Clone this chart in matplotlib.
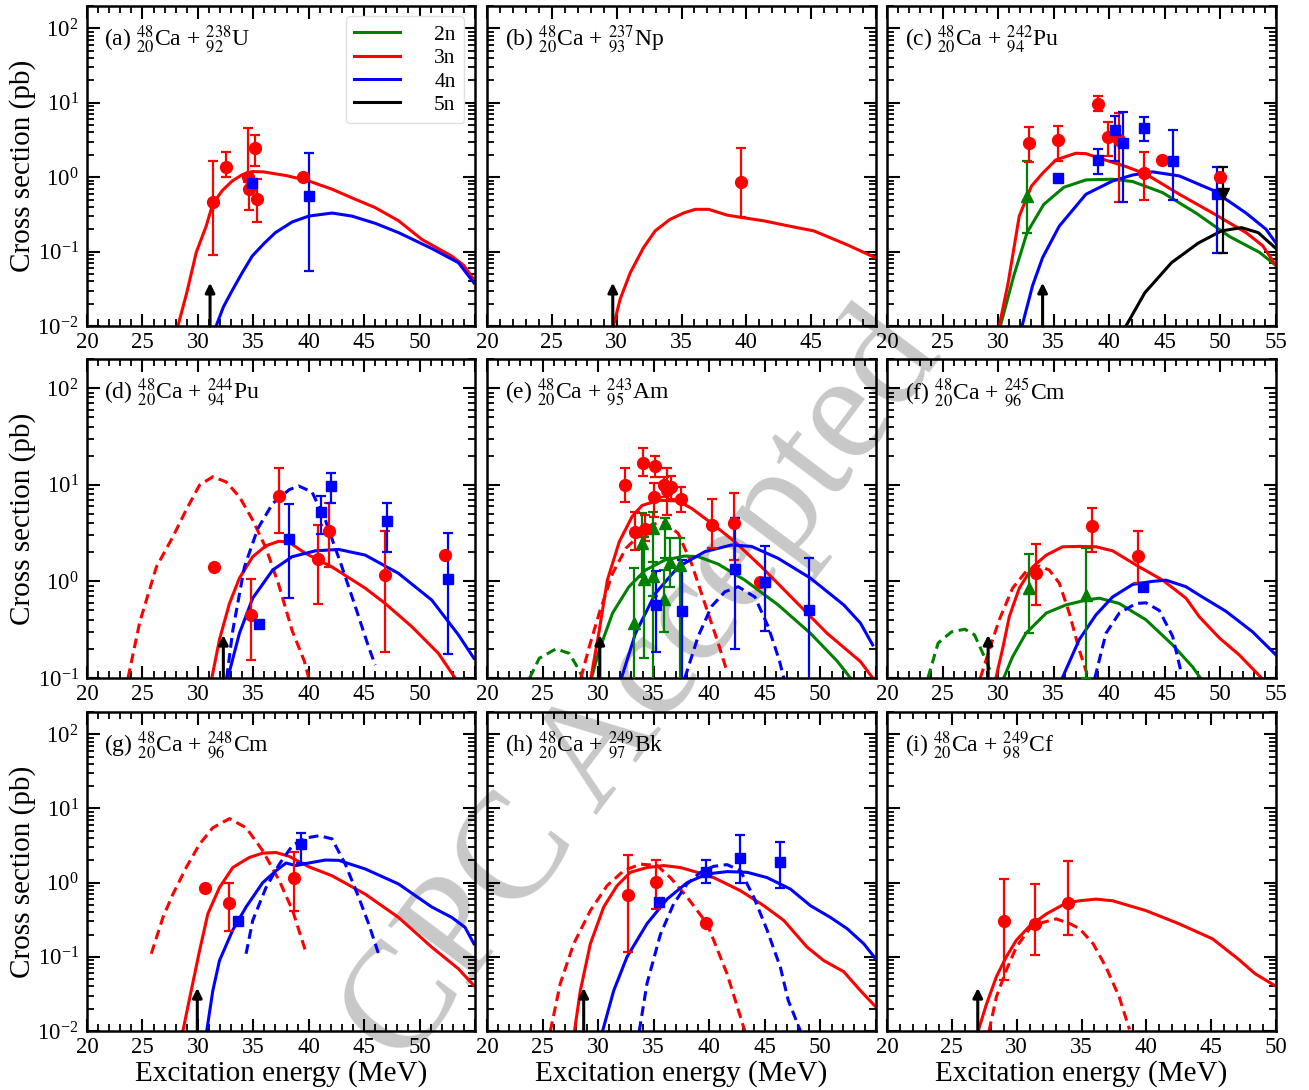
import matplotlib
matplotlib.use('Agg')
import matplotlib.pyplot as plt
import numpy as np
from matplotlib.ticker import LogLocator, NullFormatter, MultipleLocator

plt.rcParams['font.family'] = ['Liberation Serif', 'DejaVu Serif']
plt.rcParams['mathtext.fontset'] = 'stix'

RED = '#ff0000'
BLUE = '#0000ff'
GREEN = '#008000'
BLACK = '#000000'

# ---------------- (a) 48Ca + 238U ----------------
a_3n_E = [28.2, 29.0, 29.85, 30.75, 31.35, 32.2, 33.1, 34.0, 34.9, 35.9, 38.0, 40.0, 42.1, 44.0, 46.0, 48.1, 50.2, 52.9, 54.0, 55.0]
a_3n_s = [0.01, 0.028, 0.097, 0.22, 0.44, 0.66, 0.89, 1.08, 1.19, 1.18, 1.05, 0.89, 0.69, 0.52, 0.39, 0.26, 0.146, 0.087, 0.065, 0.04]
a_4n_E = [31.65, 32.3, 33.15, 34.0, 34.9, 36.0, 37.0, 38.5, 40.0, 42.1, 43.9, 46.0, 48.1, 51.1, 53.5, 54.9]
a_4n_s = [0.01, 0.018, 0.031, 0.052, 0.087, 0.13, 0.18, 0.25, 0.30, 0.33, 0.30, 0.24, 0.18, 0.11, 0.071, 0.038]
a_x3_E = [31.4, 32.5, 34.5, 34.6, 35.15, 35.3, 39.5]
a_x3_v = [0.46, 1.36, 1.0, 0.69, 2.44, 0.51, 1.0]
a_x3_lo = [0.089, 1.02, 0.85, 0.36, 1.42, 0.25, 1.0]
a_x3_hi = [1.66, 2.15, 4.6, 0.95, 3.7, 0.94, 1.0]
a_x4_E = [34.85, 40.0]
a_x4_v = [0.83, 0.56]
a_x4_lo = [0.83, 0.055]
a_x4_hi = [0.83, 2.1]
a_arrow = 31.1

# ---------------- (b) 48Ca + 237Np ----------------
b_3n_E = [29.75, 30.27, 31.05, 32.07, 32.97, 34.1, 35.16, 36.06, 37.09, 38.5, 39.5, 41.3, 43.9, 45.2, 47.8, 50.0]
b_3n_s = [0.01, 0.023, 0.052, 0.113, 0.19, 0.27, 0.33, 0.37, 0.37, 0.31, 0.29, 0.26, 0.21, 0.19, 0.123, 0.082]
b_x3_E = [39.56]
b_x3_v = [0.875]
b_x3_lo = [0.29]
b_x3_hi = [2.48]
b_arrow = 29.7

# ---------------- (c) 48Ca + 242Pu ----------------
c_2n_E = [30.2, 31.4, 32.6, 34.1, 35.9, 37.9, 40.3, 42.1, 44.8, 47.8, 50.8, 53.5, 55.0]
c_2n_s = [0.01, 0.047, 0.18, 0.43, 0.73, 0.92, 0.94, 0.875, 0.62, 0.33, 0.16, 0.098, 0.065]
c_3n_E = [30.1, 30.9, 31.9, 33.0, 34.0, 35.2, 37.0, 37.9, 39.7, 41.5, 43.3, 46.3, 49.3, 52.3, 53.8, 55.0]
c_3n_s = [0.01, 0.038, 0.30, 0.76, 1.13, 1.71, 2.1, 2.07, 1.69, 1.39, 1.1, 0.59, 0.33, 0.18, 0.12, 0.065]
c_4n_E = [32.15, 33.1, 34.0, 35.5, 37.9, 40.3, 42.1, 43.9, 46.3, 49.3, 52.3, 54.1, 55.0]
c_4n_s = [0.01, 0.035, 0.083, 0.22, 0.59, 0.89, 1.07, 1.18, 1.04, 0.67, 0.33, 0.2, 0.13]
c_5n_E = [41.5, 43.2, 45.6, 48.0, 50.1, 51.9, 53.4, 55.0]
c_5n_s = [0.01, 0.028, 0.071, 0.13, 0.19, 0.21, 0.18, 0.11]
c_x2_E = [32.6]
c_x2_v = [0.56]
c_x2_lo = [0.18]
c_x2_hi = [1.64]
c_x3_E = [32.8, 35.4, 39.0, 39.9, 40.9, 43.15, 44.75, 50.0]
c_x3_v = [2.87, 3.2, 9.6, 3.45, 3.2, 1.13, 1.69, 1.02]
c_x3_lo = [1.58, 1.66, 7.7, 1.94, 0.46, 0.5, 1.69, 1.02]
c_x3_hi = [4.75, 4.9, 12.4, 5.6, 7.4, 2.2, 1.69, 1.02]
c_x4_E = [35.4, 39.0, 40.55, 41.25, 43.1, 45.7, 49.7]
c_x4_v = [0.99, 1.69, 4.33, 2.87, 4.57, 1.66, 0.59]
c_x4_lo = [0.99, 1.09, 1.66, 0.46, 3.1, 0.49, 0.096]
c_x4_hi = [0.99, 2.4, 6.6, 7.5, 6.4, 4.3, 1.39]
c_x5_E = [50.2]
c_x5_v = [0.59]
c_x5_lo = [0.096]
c_x5_hi = [1.38]
c_arrow = 34.0

# ---------------- (d) 48Ca + 244Pu ----------------
d_3n_E = [31.26, 31.95, 32.85, 33.75, 34.95, 36.15, 37.3, 38.2, 39.7, 42.1, 45.1, 46.9, 49.3, 51.7, 53.2]
d_3n_s = [0.1, 0.25, 0.59, 1.08, 1.8, 2.34, 2.6, 2.55, 1.95, 1.41, 0.85, 0.59, 0.34, 0.18, 0.1]
d_3d_E = [23.7, 24.76, 26.26, 27.75, 28.95, 30.15, 31.35, 32.55, 33.75, 34.95, 36.15, 37.3, 38.5, 39.6, 40.0]
d_3d_s = [0.1, 0.38, 1.41, 2.9, 5.5, 9.9, 12.1, 10.7, 7.5, 4.3, 2.2, 0.92, 0.31, 0.15, 0.1]
d_4n_E = [32.7, 33.75, 34.95, 36.75, 38.5, 40.6, 42.7, 45.1, 48.1, 51.1, 53.5, 54.9]
d_4n_s = [0.1, 0.29, 0.67, 1.31, 1.8, 2.07, 2.14, 1.87, 1.21, 0.64, 0.28, 0.16]
d_4d_E = [32.6, 33.15, 34.2, 35.4, 36.75, 38.25, 39.1, 40.3, 41.5, 43.0, 44.2, 45.4, 46.0]
d_4d_s = [0.1, 0.31, 1.41, 3.5, 6.4, 8.9, 9.7, 8.4, 4.3, 1.41, 0.55, 0.21, 0.136]
d_x3_E = [31.5, 34.8, 37.3, 40.8, 41.8, 46.9, 52.25]
d_x3_v = [1.41, 0.45, 7.7, 1.69, 3.3, 1.16, 1.87]
d_x3_lo = [1.41, 0.153, 3.2, 0.58, 1.41, 0.185, 1.87]
d_x3_hi = [1.41, 1.05, 14.8, 3.8, 6.4, 3.3, 1.87]
d_x4_E = [35.5, 38.2, 41.1, 42.0, 47.1, 52.6]
d_x4_v = [0.36, 2.74, 5.25, 9.7, 4.2, 1.05]
d_x4_lo = [0.36, 0.67, 3.07, 6.4, 2.0, 0.177]
d_x4_hi = [0.36, 6.3, 7.7, 13.3, 6.5, 3.14]
d_arrow = 32.3

# ---------------- (e) 48Ca + 243Am ----------------
e_2n_E = [29.4, 30.1, 31.3, 32.77, 34.26, 36.0, 37.8, 39.0, 40.8, 43.2, 46.2, 49.1, 51.5, 52.7]
e_2n_s = [0.1, 0.195, 0.47, 0.88, 1.31, 1.66, 1.83, 1.8, 1.51, 1.03, 0.57, 0.29, 0.15, 0.1]
e_2d_E = [23.84, 24.7, 26.2, 27.4, 28.3, 28.6]
e_2d_s = [0.1, 0.16, 0.2, 0.18, 0.12, 0.1]
e_3n_E = [29.35, 30.1, 30.83, 31.9, 33.06, 33.95, 35.45, 37.2, 38.4, 40.2, 42.3, 44.7, 47.65, 50.6, 53.6, 54.7]
e_3n_s = [0.1, 0.31, 1.03, 2.57, 4.7, 6.1, 6.9, 6.8, 5.7, 4.0, 2.57, 1.41, 0.64, 0.29, 0.148, 0.1]
e_3d_E = [28.45, 29.2, 30.1, 31.3, 32.5, 33.7, 34.85, 36.0, 37.2, 38.4, 39.6, 40.8, 41.55]
e_3d_s = [0.1, 0.21, 0.47, 1.21, 2.2, 3.0, 3.9, 4.05, 3.14, 1.53, 0.59, 0.23, 0.121]
e_4n_E = [32.1, 33.36, 35.15, 37.2, 39.6, 42.0, 43.8, 46.2, 49.1, 52.1, 53.6, 54.7]
e_4n_s = [0.1, 0.29, 0.75, 1.41, 2.03, 2.38, 2.3, 1.73, 1.08, 0.57, 0.37, 0.22]
e_4d_E = [37.8, 39.0, 40.2, 41.4, 42.6, 44.1, 45.3, 46.3, 46.7]
e_4d_s = [0.1, 0.27, 0.55, 0.78, 0.88, 0.69, 0.34, 0.153, 0.1]
e_x2_E = [33.27, 33.96, 34.1, 34.94, 34.94, 35.98, 35.92, 36.49, 37.38]
e_x2_v = [0.37, 2.47, 1.05, 3.6, 1.13, 4.0, 0.65, 1.6, 1.48]
e_x2_lo = [0.09, 1.12, 0.16, 0.09, 0.7, 1.73, 0.3, 0.88, 0.09]
e_x2_hi = [1.36, 5.06, 2.9, 5.25, 1.6, 4.5, 1.3, 2.79, 2.8]
e_x3_E = [32.4, 33.3, 34.05, 34.26, 35.1, 35.06, 35.9, 36.2, 36.6, 37.47, 40.27, 42.2, 44.55]
e_x3_v = [9.9, 3.27, 16.6, 3.5, 15.6, 7.4, 9.9, 8.8, 9.5, 7.1, 3.83, 4.05, 0.98]
e_x3_lo = [6.6, 2.1, 12.3, 2.6, 12.1, 4.6, 7.4, 4.85, 7.1, 5.25, 2.2, 1.66, 0.98]
e_x3_hi = [14.8, 5.25, 23.8, 4.9, 19.8, 10.3, 12.0, 15.0, 12.3, 9.5, 7.1, 8.3, 0.98]
e_x4_E = [35.2, 37.53, 42.35, 44.97, 49.0]
e_x4_v = [0.57, 0.49, 1.33, 0.99, 0.51]
e_x4_lo = [0.187, 0.09, 0.2, 0.31, 0.09]
e_x4_hi = [1.28, 1.66, 4.5, 2.34, 1.76]
e_arrow = 30.15

# ---------------- (f) 48Ca + 245Cm ----------------
f_2n_E = [30.5, 31.3, 32.5, 34.33, 36.1, 37.9, 39.1, 40.9, 43.3, 45.7, 47.5, 48.2]
f_2n_s = [0.1, 0.166, 0.29, 0.47, 0.57, 0.64, 0.67, 0.59, 0.4, 0.22, 0.13, 0.1]
f_2d_E = [23.68, 24.6, 25.8, 27.0, 27.87, 28.76, 29.4]
f_2d_s = [0.1, 0.23, 0.3, 0.32, 0.28, 0.166, 0.11]
f_3n_E = [29.8, 30.44, 31.0, 31.9, 33.1, 34.33, 35.8, 37.3, 38.8, 40.3, 42.7, 44.8, 46.9, 48.1, 49.9, 51.7, 53.7]
f_3n_s = [0.1, 0.21, 0.43, 0.85, 1.41, 1.87, 2.28, 2.3, 2.28, 2.07, 1.41, 1.03, 0.67, 0.43, 0.26, 0.173, 0.1]
f_3d_E = [28.4, 29.2, 30.1, 31.3, 32.5, 33.7, 34.6, 35.5, 36.4, 37.3, 38.0]
f_3d_s = [0.1, 0.195, 0.4, 0.85, 1.26, 1.44, 1.31, 0.96, 0.47, 0.195, 0.11]
f_4n_E = [35.77, 37.3, 38.8, 40.3, 42.1, 43.9, 45.1, 46.9, 48.1, 50.5, 52.9, 55.0]
f_4n_s = [0.1, 0.25, 0.45, 0.69, 0.93, 1.0, 1.03, 0.88, 0.72, 0.49, 0.3, 0.173]
f_4d_E = [38.7, 39.7, 40.9, 42.4, 43.3, 44.5, 45.7, 46.5]
f_4d_s = [0.1, 0.29, 0.47, 0.59, 0.6, 0.5, 0.27, 0.11]
f_x2_E = [32.8, 37.9]
f_x2_v = [0.85, 0.72]
f_x2_lo = [0.29, 0.1]
f_x2_hi = [1.9, 2.2]
f_x3_E = [33.4, 38.4, 42.6]
f_x3_v = [1.21, 3.73, 1.84]
f_x3_lo = [0.57, 2.0, 0.96]
f_x3_hi = [2.43, 5.8, 3.3]
f_x4_E = [43.0]
f_x4_v = [0.88]
f_x4_lo = [0.88]
f_x4_hi = [0.88]
f_arrow = 29.1

# ---------------- (g) 48Ca + 248Cm ----------------
g_3n_E = [28.65, 29.4, 30.15, 30.9, 31.95, 33.15, 34.65, 35.85, 37.05, 38.25, 40.0, 42.1, 45.1, 48.1, 51.1, 53.5, 54.9]
g_3n_s = [0.01, 0.035, 0.12, 0.38, 0.86, 1.6, 2.19, 2.5, 2.55, 2.26, 1.64, 1.24, 0.7, 0.34, 0.135, 0.069, 0.041]
g_3d_E = [25.8, 26.85, 27.75, 28.95, 30.15, 31.35, 32.85, 34.35, 35.85, 37.35, 38.55, 39.75]
g_3d_s = [0.11, 0.34, 0.7, 1.6, 3.3, 5.5, 7.3, 5.5, 2.7, 1.06, 0.42, 0.115]
g_4n_E = [30.8, 31.35, 31.95, 33.15, 34.35, 35.85, 37.05, 37.95, 38.85, 40.0, 41.5, 42.7, 45.1, 48.1, 51.1, 52.9, 54.1, 54.9]
g_4n_s = [0.01, 0.035, 0.089, 0.23, 0.47, 1.0, 1.45, 1.84, 1.7, 1.84, 2.02, 2.0, 1.53, 0.96, 0.47, 0.34, 0.25, 0.15]
g_4d_E = [34.35, 34.95, 36.15, 37.35, 38.55, 39.75, 40.95, 42.1, 43.3, 44.5, 45.4, 46.3]
g_4d_s = [0.11, 0.31, 0.86, 1.78, 3.2, 4.0, 4.3, 3.9, 1.78, 0.64, 0.28, 0.11]
g_x3_E = [30.6, 32.8, 38.7]
g_x3_v = [0.86, 0.54, 1.16]
g_x3_lo = [0.86, 0.22, 0.42]
g_x3_hi = [0.86, 1.0, 2.56]
g_x4_E = [33.6, 39.3]
g_x4_v = [0.3, 3.3]
g_x4_lo = [0.3, 1.87]
g_x4_hi = [0.3, 4.66]
g_arrow = 29.95

# ---------------- (h) 48Ca + 249Bk ----------------
h_3n_E = [27.87, 28.4, 29.3, 30.5, 31.7, 32.9, 34.4, 35.9, 37.4, 38.9, 40.4, 42.8, 44.9, 46.7, 48.8, 50.3, 52.1, 53.6, 55.0]
h_3n_s = [0.01, 0.035, 0.15, 0.47, 0.91, 1.38, 1.6, 1.7, 1.6, 1.38, 1.17, 0.78, 0.49, 0.31, 0.135, 0.089, 0.063, 0.035, 0.021]
h_3d_E = [25.7, 26.6, 27.8, 29.3, 30.8, 32.3, 33.8, 35.3, 36.5, 38.0, 39.8, 41.6, 43.2]
h_3d_s = [0.01, 0.044, 0.15, 0.42, 0.91, 1.45, 1.78, 1.7, 1.17, 0.64, 0.28, 0.059, 0.01]
h_4n_E = [30.4, 31.4, 32.6, 34.4, 36.2, 38.0, 39.8, 41.6, 43.4, 45.2, 47.3, 49.1, 50.9, 52.4, 53.9, 55.0]
h_4n_s = [0.01, 0.035, 0.1, 0.28, 0.6, 1.0, 1.31, 1.41, 1.38, 1.17, 0.82, 0.49, 0.34, 0.24, 0.15, 0.093]
h_4d_E = [33.7, 34.4, 35.6, 36.8, 38.0, 39.2, 40.4, 41.6, 42.8, 44.0, 45.2, 46.4, 47.1, 48.2]
h_4d_s = [0.01, 0.044, 0.2, 0.52, 0.96, 1.38, 1.66, 1.75, 1.45, 0.64, 0.23, 0.072, 0.026, 0.01]
h_x3_E = [32.73, 35.2, 39.73]
h_x3_v = [0.69, 1.03, 0.29]
h_x3_lo = [0.116, 0.44, 0.29]
h_x3_hi = [2.36, 2.0, 0.29]
h_x4_E = [35.5, 39.67, 42.75, 46.35]
h_x4_v = [0.55, 1.41, 2.15, 1.9]
h_x4_lo = [0.55, 0.98, 0.98, 0.84]
h_x4_hi = [0.55, 2.04, 4.4, 3.55]
h_arrow = 28.7

# ---------------- (i) 48Ca + 249Cf ----------------
i_3n_E = [27.03, 27.67, 28.44, 29.2, 29.97, 31.0, 32.3, 33.8, 34.85, 36.13, 37.4, 39.97, 42.5, 45.1, 47.1, 48.4, 49.9]
i_3n_s = [0.01, 0.023, 0.054, 0.1, 0.167, 0.26, 0.38, 0.53, 0.57, 0.6, 0.57, 0.42, 0.28, 0.175, 0.093, 0.059, 0.041]
i_3d_E = [27.87, 28.44, 29.2, 29.97, 31.0, 32.0, 33.05, 34.1, 34.85, 35.9, 36.9, 37.9, 38.7]
i_3d_s = [0.01, 0.029, 0.066, 0.135, 0.24, 0.29, 0.325, 0.28, 0.24, 0.15, 0.072, 0.029, 0.0105]
i_x3_E = [29.03, 31.4, 33.97]
i_x3_v = [0.3, 0.28, 0.54]
i_x3_lo = [0.049, 0.105, 0.2]
i_x3_hi = [1.12, 0.96, 1.98]
i_arrow = 27.0

panels = [
    dict(tag='(a)', tgt=r'${}^{238}_{92}$U', xmax=55, ymin=1e-2, arrow=a_arrow,
         curves=[(a_3n_E, a_3n_s, RED, '-'), (a_4n_E, a_4n_s, BLUE, '-')],
         exp=[(a_x3_E, a_x3_v, a_x3_lo, a_x3_hi, RED, 'o'),
              (a_x4_E, a_x4_v, a_x4_lo, a_x4_hi, BLUE, 's')]),
    dict(tag='(b)', tgt=r'${}^{237}_{93}$Np', xmax=50, ymin=1e-2, arrow=b_arrow,
         curves=[(b_3n_E, b_3n_s, RED, '-')],
         exp=[(b_x3_E, b_x3_v, b_x3_lo, b_x3_hi, RED, 'o')]),
    dict(tag='(c)', tgt=r'${}^{242}_{94}$Pu', xmax=55, ymin=1e-2, arrow=c_arrow,
         curves=[(c_2n_E, c_2n_s, GREEN, '-'), (c_3n_E, c_3n_s, RED, '-'),
                 (c_4n_E, c_4n_s, BLUE, '-'), (c_5n_E, c_5n_s, BLACK, '-')],
         exp=[(c_x2_E, c_x2_v, c_x2_lo, c_x2_hi, GREEN, '^'),
              (c_x3_E, c_x3_v, c_x3_lo, c_x3_hi, RED, 'o'),
              (c_x4_E, c_x4_v, c_x4_lo, c_x4_hi, BLUE, 's'),
              (c_x5_E, c_x5_v, c_x5_lo, c_x5_hi, BLACK, 'v')]),
    dict(tag='(d)', tgt=r'${}^{244}_{94}$Pu', xmax=55, ymin=1e-1, arrow=d_arrow,
         curves=[(d_3n_E, d_3n_s, RED, '-'), (d_3d_E, d_3d_s, RED, '--'),
                 (d_4n_E, d_4n_s, BLUE, '-'), (d_4d_E, d_4d_s, BLUE, '--')],
         exp=[(d_x3_E, d_x3_v, d_x3_lo, d_x3_hi, RED, 'o'),
              (d_x4_E, d_x4_v, d_x4_lo, d_x4_hi, BLUE, 's')]),
    dict(tag='(e)', tgt=r'${}^{243}_{95}$Am', xmax=55, ymin=1e-1, arrow=e_arrow,
         curves=[(e_2n_E, e_2n_s, GREEN, '-'), (e_2d_E, e_2d_s, GREEN, '--'),
                 (e_3n_E, e_3n_s, RED, '-'), (e_3d_E, e_3d_s, RED, '--'),
                 (e_4n_E, e_4n_s, BLUE, '-'), (e_4d_E, e_4d_s, BLUE, '--')],
         exp=[(e_x2_E, e_x2_v, e_x2_lo, e_x2_hi, GREEN, '^'),
              (e_x3_E, e_x3_v, e_x3_lo, e_x3_hi, RED, 'o'),
              (e_x4_E, e_x4_v, e_x4_lo, e_x4_hi, BLUE, 's')]),
    dict(tag='(f)', tgt=r'${}^{245}_{96}$Cm', xmax=55, ymin=1e-1, arrow=f_arrow,
         curves=[(f_2n_E, f_2n_s, GREEN, '-'), (f_2d_E, f_2d_s, GREEN, '--'),
                 (f_3n_E, f_3n_s, RED, '-'), (f_3d_E, f_3d_s, RED, '--'),
                 (f_4n_E, f_4n_s, BLUE, '-'), (f_4d_E, f_4d_s, BLUE, '--')],
         exp=[(f_x2_E, f_x2_v, f_x2_lo, f_x2_hi, GREEN, '^'),
              (f_x3_E, f_x3_v, f_x3_lo, f_x3_hi, RED, 'o'),
              (f_x4_E, f_x4_v, f_x4_lo, f_x4_hi, BLUE, 's')]),
    dict(tag='(g)', tgt=r'${}^{248}_{96}$Cm', xmax=55, ymin=1e-2, arrow=g_arrow,
         curves=[(g_3n_E, g_3n_s, RED, '-'), (g_3d_E, g_3d_s, RED, '--'),
                 (g_4n_E, g_4n_s, BLUE, '-'), (g_4d_E, g_4d_s, BLUE, '--')],
         exp=[(g_x3_E, g_x3_v, g_x3_lo, g_x3_hi, RED, 'o'),
              (g_x4_E, g_x4_v, g_x4_lo, g_x4_hi, BLUE, 's')]),
    dict(tag='(h)', tgt=r'${}^{249}_{97}$Bk', xmax=55, ymin=1e-2, arrow=h_arrow,
         curves=[(h_3n_E, h_3n_s, RED, '-'), (h_3d_E, h_3d_s, RED, '--'),
                 (h_4n_E, h_4n_s, BLUE, '-'), (h_4d_E, h_4d_s, BLUE, '--')],
         exp=[(h_x3_E, h_x3_v, h_x3_lo, h_x3_hi, RED, 'o'),
              (h_x4_E, h_x4_v, h_x4_lo, h_x4_hi, BLUE, 's')]),
    dict(tag='(i)', tgt=r'${}^{249}_{98}$Cf', xmax=50, ymin=1e-2, arrow=i_arrow,
         curves=[(i_3n_E, i_3n_s, RED, '-'), (i_3d_E, i_3d_s, RED, '--')],
         exp=[(i_x3_E, i_x3_v, i_x3_lo, i_x3_hi, RED, 'o')]),
]

W, H = 1309, 1090
fig = plt.figure(figsize=(W / 100, H / 100), dpi=100)

# watermark sits behind the transparent axes
fig.text(645 / W, 1 - 690 / H, 'CPC Accepted', rotation=53, fontsize=110,
         color='#c8c8c8', ha='center', va='center', rotation_mode='anchor', zorder=-5)

col_x = [(87, 475), (487, 876), (887, 1276)]
row_y = [(6, 326), (359, 678), (712, 1031)]
msize = {'o': 8.5, 's': 7.5, '^': 8, 'v': 8}

for k, p in enumerate(panels):
    r, c = divmod(k, 3)
    x0, x1 = col_x[c]
    y0, y1 = row_y[r]
    ax = fig.add_axes([x0 / W, 1 - y1 / H, (x1 - x0) / W, (y1 - y0) / H])
    ax.set_facecolor('none')
    ax.set_yscale('log')
    ax.set_xlim(20, p['xmax'])
    ax.set_ylim(p['ymin'], 200)

    for E, s, col, ls in p['curves']:
        if ls == '--':
            ax.plot(E, s, color=col, lw=2.2, linestyle=(0, (3.2, 1.8)))
        else:
            ax.plot(E, s, color=col, lw=2.2)

    for E, v, lo, hi, col, m in p['exp']:
        v = np.array(v)
        yerr = [v - np.array(lo), np.array(hi) - v]
        ax.errorbar(E, v, yerr=yerr, fmt=m, color=col, ms=msize[m], elinewidth=1.6,
                    capsize=3.5, capthick=1.6, zorder=4)

    ax.annotate('', xy=(p['arrow'], 0.135), xycoords=('data', 'axes fraction'),
                xytext=(p['arrow'], 0.0), textcoords=('data', 'axes fraction'),
                arrowprops=dict(arrowstyle='-|>', color='k', lw=2.2, mutation_scale=14,
                                shrinkA=0, shrinkB=0))

    ax.text(0.045, 0.895, p['tag'] + r' ${}^{48}_{20}$Ca + ' + p['tgt'],
            transform=ax.transAxes, fontsize=17, va='center', ha='left')

    ticks = list(range(20, p['xmax'] + 1, 5))
    labels = [str(t) for t in ticks]
    if c < 2:
        labels[-1] = ''
    ax.set_xticks(ticks)
    ax.set_xticklabels(labels)
    ax.xaxis.set_minor_locator(MultipleLocator(1))
    ax.yaxis.set_major_locator(LogLocator(base=10, numticks=20))
    ax.yaxis.set_minor_locator(LogLocator(base=10, subs=np.arange(2, 10), numticks=20))
    ax.yaxis.set_minor_formatter(NullFormatter())
    ax.tick_params(which='both', direction='in', top=True, right=True, labelsize=16.5)
    ax.tick_params(which='major', length=9, width=1.5, pad=4)
    ax.tick_params(axis='y', which='major', pad=6)
    ax.tick_params(which='minor', length=5, width=1.3)
    for sp in ax.spines.values():
        sp.set_linewidth(1.8)
    if c == 0:
        ax.set_ylabel('Cross section (pb)', fontsize=21, labelpad=1)
    else:
        ax.tick_params(labelleft=False)
    if r == 2:
        ax.set_xlabel('Excitation energy (MeV)', fontsize=21, labelpad=2)

    if k == 0:
        handles = [plt.Line2D([], [], color=cl, lw=2.2) for cl in (GREEN, RED, BLUE, BLACK)]
        leg = ax.legend(handles, ['2n', '3n', '4n', '5n'], loc='upper right',
                        bbox_to_anchor=(0.972, 0.968), borderaxespad=0, fontsize=15.5,
                        labelspacing=0.15, handlelength=2.1, handletextpad=1.6,
                        borderpad=0.4, fancybox=True, framealpha=1)
        leg.get_frame().set_edgecolor('#e0e0e0')

fig.savefig('out.png', dpi=100)
